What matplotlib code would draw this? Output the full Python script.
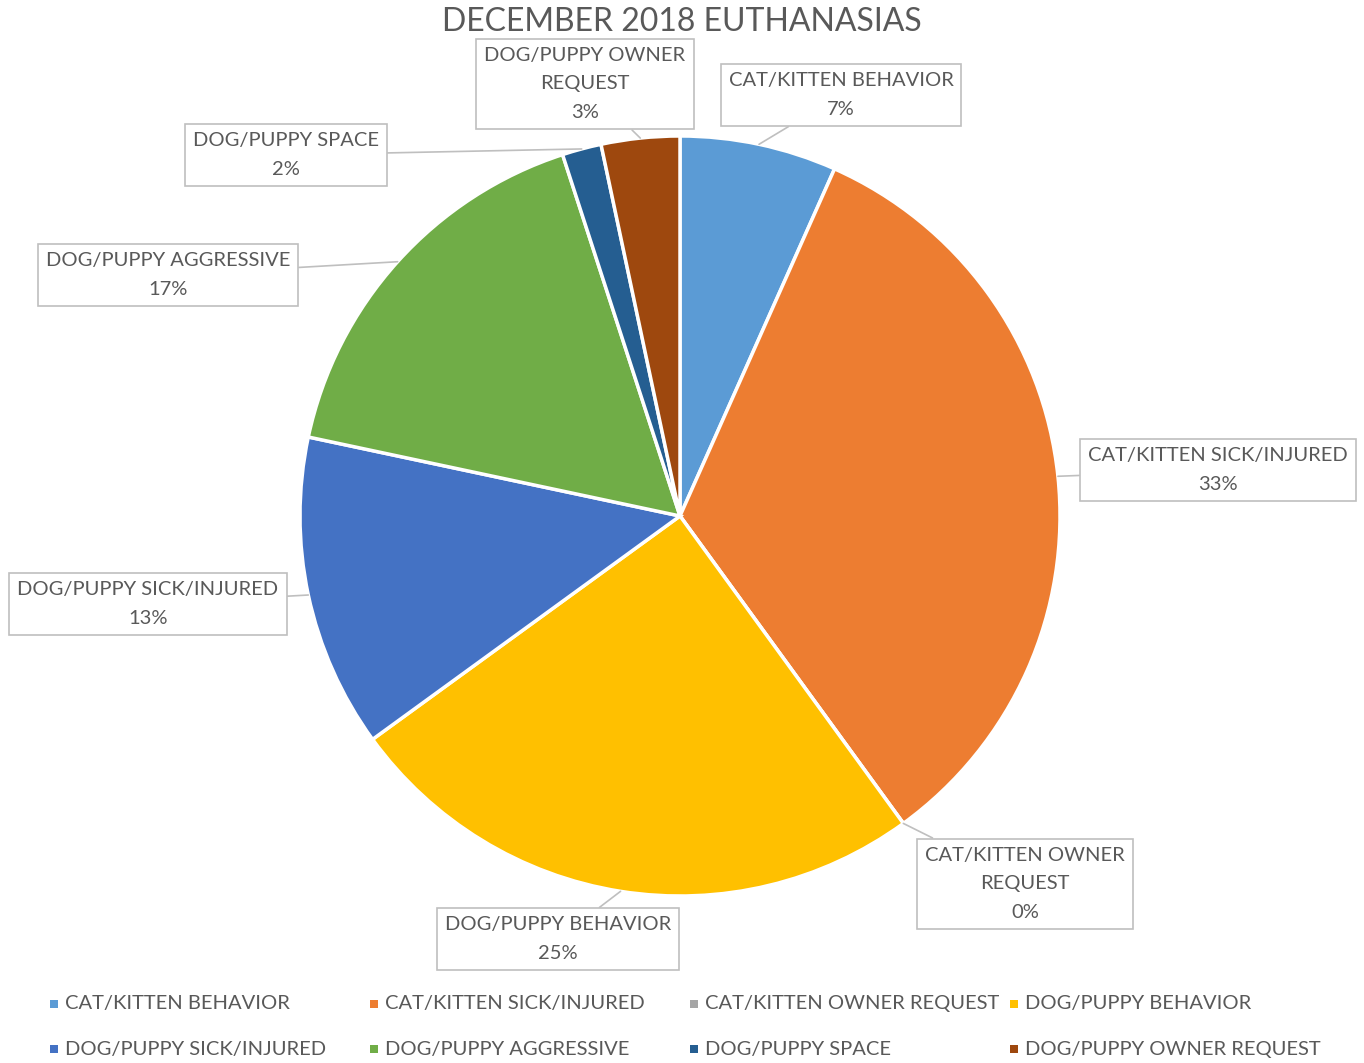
import numpy as np
import matplotlib
matplotlib.use("Agg")
import matplotlib.pyplot as plt
from matplotlib.patches import Rectangle

categories = ["CAT/KITTEN BEHAVIOR", "CAT/KITTEN SICK/INJURED", "CAT/KITTEN OWNER REQUEST",
              "DOG/PUPPY BEHAVIOR", "DOG/PUPPY SICK/INJURED", "DOG/PUPPY AGGRESSIVE",
              "DOG/PUPPY SPACE", "DOG/PUPPY OWNER REQUEST"]
counts = [4, 20, 0, 15, 8, 10, 1, 2]
label_names = ["CAT/KITTEN BEHAVIOR", "CAT/KITTEN SICK/INJURED", "CAT/KITTEN OWNER\nREQUEST",
               "DOG/PUPPY BEHAVIOR", "DOG/PUPPY SICK/INJURED", "DOG/PUPPY AGGRESSIVE",
               "DOG/PUPPY SPACE", "DOG/PUPPY OWNER\nREQUEST"]
colors = ["#5B9BD5", "#ED7D31", "#A5A5A5", "#FFC000", "#4472C4", "#70AD47", "#255E91", "#9E480E"]

# label box centres, in pixel coords (y from top)
label_pos = [(841, 95), (1218, 470), (1025, 884), (558, 939),
             (148, 604), (168, 275), (286, 155), (585, 84)]

W, H = 1364, 1063
plt.rcParams['font.family'] = ['Lato', 'DejaVu Sans']
txt = "#595959"

fig = plt.figure(figsize=(W / 100, H / 100), dpi=100)
ax = fig.add_axes([0, 0, 1, 1])

cx, cy, r = 680, H - 516, 380
wedges, _ = ax.pie(counts, colors=colors, startangle=90, counterclock=False,
                   center=(cx, cy), radius=r, frame=True,
                   wedgeprops=dict(edgecolor='white', linewidth=2.5))
ax.set_xlim(0, W)
ax.set_ylim(0, H)
ax.set_aspect('equal')
ax.axis('off')

total = sum(counts)
for w, name, v, (lx, ly) in zip(wedges, label_names, counts, label_pos):
    mid = np.radians((w.theta1 + w.theta2) / 2)
    px, py = cx + r * np.cos(mid), cy + r * np.sin(mid)
    pct = round(v / total * 100)
    ax.annotate(f"{name}\n{pct}%", xy=(px, py), xytext=(lx, H - ly),
                ha='center', va='center', fontsize=14.5, color=txt, linespacing=1.85,
                bbox=dict(boxstyle='square,pad=0.4', fc='white', ec='#BFBFBF', lw=1.2),
                arrowprops=dict(arrowstyle='-', color='#BFBFBF', lw=1.2,
                                shrinkA=0, shrinkB=0))

fig.text(0.5, 1 - 22 / H, "DECEMBER 2018 EUTHANASIAS", ha='center', va='center',
         fontsize=23, color=txt)

# legend: 4 fixed-width columns, 2 rows
for i, (name, c) in enumerate(zip(categories, colors)):
    row, col = divmod(i, 4)
    x0 = 50 + col * 320
    y0 = H - (1004 + row * 45)
    ax.add_patch(Rectangle((x0, y0 - 4), 8, 8, facecolor=c, edgecolor='none'))
    ax.text(x0 + 15, y0, name, ha='left', va='center', fontsize=14.5, color=txt)

fig.savefig("out.png", dpi=100)
